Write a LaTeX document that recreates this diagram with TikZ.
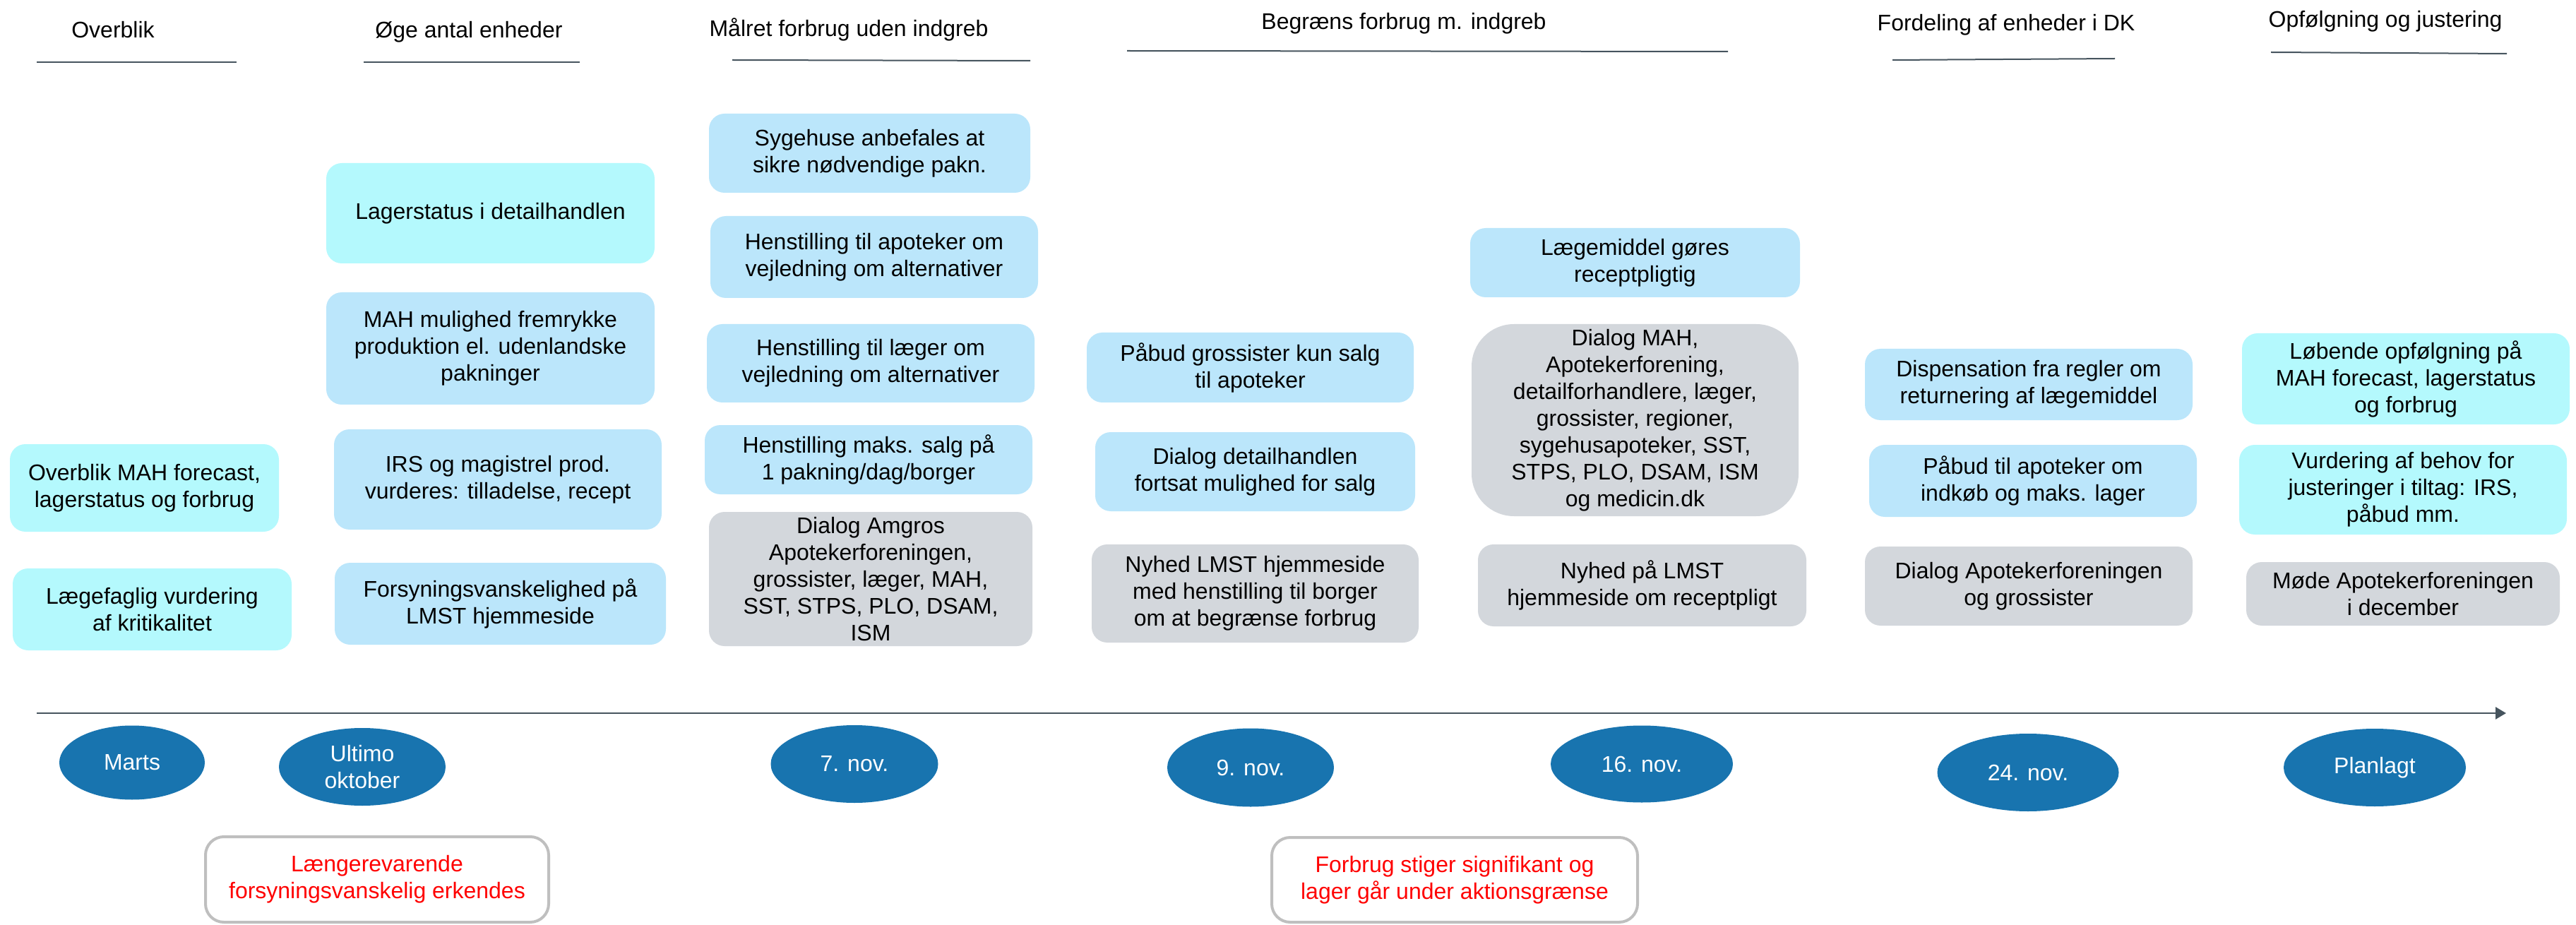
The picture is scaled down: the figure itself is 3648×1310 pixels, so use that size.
\documentclass[tikz,border=0pt]{standalone}
\usepackage{fontspec}
\setmainfont{Liberation Sans}
\usetikzlibrary{arrows.meta,shapes.geometric}
\definecolor{cyanbox}{RGB}{180,249,253}
\definecolor{bluebox}{RGB}{187,230,251}
\definecolor{graybox}{RGB}{211,215,220}
\definecolor{ellblue}{RGB}{24,116,175}
\definecolor{lineclr}{RGB}{70,84,94}
\definecolor{alertbdr}{RGB}{191,191,191}
\newcommand\mybox[7]{\node[#6, minimum width={(#4-#2)*0.5pt}, minimum height={(#5-#3)*0.5pt}] (#1) at ({(#2+#4)/2},{(#3+#5)/2}) {#7};}
\newcommand\mydate[6]{\node[datenode, minimum width={#4*0.5pt}, minimum height={#5*0.5pt}] (#1) at (#2,#3) {#6};}
\tikzset{
  txt/.style={font=\fontsize{16}{19}\selectfont},
  basebox/.style={txt, rounded corners=11pt, inner sep=0pt, align=center, text=black},
  cbox/.style={basebox, fill=cyanbox},
  bbox/.style={basebox, fill=bluebox},
  gbox/.style={basebox, fill=graybox},
  hdr/.style={txt, anchor=base, inner sep=0pt},
  hline/.style={draw=lineclr, line width=1pt},
  datenode/.style={txt, ellipse, fill=ellblue, text=white, inner sep=0pt, align=center},
  alertbox/.style={basebox, draw=alertbdr, line width=2pt, fill=white, text=red, rounded corners=13pt},
  timeline/.style={draw=lineclr, line width=1.4pt, -{Triangle[length=7.5pt,width=8.5pt]}}
}
\begin{document}
\begin{tikzpicture}[x=0.5pt,y=-0.5pt]
\useasboundingbox (0,0) rectangle (3648,1310);

% headers
\node[hdr] (h1) at (160,54) {Overblik};
\node[hdr] (h2) at (664,54) {Øge antal enheder};
\node[hdr] (h3) at (1202,52) {Målret forbrug uden indgreb};
\node[hdr] (h4) at (1988,42) {Begræns forbrug m. indgreb};
\node[hdr] (h5) at (2841,44) {Fordeling af enheder i DK};
\node[hdr] (h6) at (3378,39) {Opfølgning og justering};

\draw[hline] (52,88) -- (335,88);
\draw[hline] (515,88) -- (821,88);
\draw[hline] (1037,85) -- (1459,86);
\draw[hline] (1596,72) -- (2447,73);
\draw[hline] (2680,85) -- (2995,83);
\draw[hline] (3216,74) -- (3550,76);

% column 1
\mybox{c1a}{14}{629}{395}{753}{cbox}{Overblik MAH forecast,\\lagerstatus og forbrug}
\mybox{c1b}{18}{805}{413}{921}{cbox}{Lægefaglig vurdering\\af kritikalitet}
% column 2
\mybox{c2a}{462}{231}{927}{373}{cbox}{Lagerstatus i detailhandlen}
\mybox{c2b}{462}{414}{927}{573}{bbox}{MAH mulighed fremrykke\\produktion el. udenlandske\\pakninger}
\mybox{c2c}{473}{608}{937}{750}{bbox}{IRS og magistrel prod.\\vurderes: tilladelse, recept}
\mybox{c2d}{474}{797}{943}{913}{bbox}{Forsyningsvanskelighed på\\LMST hjemmeside}
% column 3
\mybox{c3a}{1004}{161}{1459}{273}{bbox}{Sygehuse anbefales at\\sikre nødvendige pakn.}
\mybox{c3b}{1006}{306}{1470}{422}{bbox}{Henstilling til apoteker om\\vejledning om alternativer}
\mybox{c3c}{1001}{459}{1465}{570}{bbox}{Henstilling til læger om\\vejledning om alternativer}
\mybox{c3d}{998}{602}{1462}{700}{bbox}{Henstilling maks. salg på\\1 pakning/dag/borger}
\mybox{c3e}{1004}{725}{1462}{915}{gbox}{Dialog Amgros\\Apotekerforeningen,\\grossister, læger, MAH,\\SST, STPS, PLO, DSAM,\\ISM}
% column 4
\mybox{c4a}{1539}{471}{2002}{570}{bbox}{Påbud grossister kun salg\\til apoteker}
\mybox{c4b}{1551}{612}{2004}{724}{bbox}{Dialog detailhandlen\\fortsat mulighed for salg}
\mybox{c4c}{1546}{771}{2009}{910}{gbox}{Nyhed LMST hjemmeside\\med henstilling til borger\\om at begrænse forbrug}
% column 5
\mybox{c5a}{2082}{323}{2549}{421}{bbox}{Lægemiddel gøres\\receptpligtig}
\mybox{c5b}{2084}{459}{2547}{731}{gbox,rounded corners=30pt}{Dialog MAH,\\Apotekerforening,\\detailforhandlere, læger,\\grossister, regioner,\\sygehusapoteker, SST,\\STPS, PLO, DSAM, ISM\\og medicin.dk}
\mybox{c5c}{2093}{771}{2558}{887}{gbox}{Nyhed på LMST\\hjemmeside om receptpligt}
% column 6
\mybox{c6a}{2641}{494}{3105}{595}{bbox}{Dispensation fra regler om\\returnering af lægemiddel}
\mybox{c6b}{2647}{630}{3111}{732}{bbox}{Påbud til apoteker om\\indkøb og maks. lager}
\mybox{c6c}{2641}{774}{3105}{886}{gbox}{Dialog Apotekerforeningen\\og grossister}
% column 7
\mybox{c7a}{3175}{472}{3639}{601}{cbox}{Løbende opfølgning på\\MAH forecast, lagerstatus\\og forbrug}
\mybox{c7b}{3171}{630}{3635}{757}{cbox}{Vurdering af behov for\\justeringer i tiltag: IRS,\\påbud mm.}
\mybox{c7c}{3181}{796}{3625}{886}{gbox}{Møde Apotekerforeningen\\i december}

% timeline
\coordinate (tl0) at (52,1010);
\coordinate (tl1) at (3549,1010);
\draw[timeline] (tl0) -- (tl1);

\mydate{d1}{187}{1080}{206}{105}{Marts}
\mydate{d2}{513}{1086}{236}{110}{Ultimo\\oktober}
\mydate{d3}{1210}{1082}{237}{110}{7. nov.}
\mydate{d4}{1771}{1087}{236}{111}{9. nov.}
\mydate{d5}{2325}{1082}{258}{109}{16. nov.}
\mydate{d6}{2872}{1094}{257}{110}{24. nov.}
\mydate{d7}{3363}{1087}{258}{110}{Planlagt}

% alert boxes
\mybox{a1}{291}{1185}{777}{1306}{alertbox}{Længerevarende\\forsyningsvanskelig erkendes}
\mybox{a2}{1801}{1186}{2319}{1306}{alertbox}{Forbrug stiger signifikant og\\lager går under aktionsgrænse}
\end{tikzpicture}
\end{document}
